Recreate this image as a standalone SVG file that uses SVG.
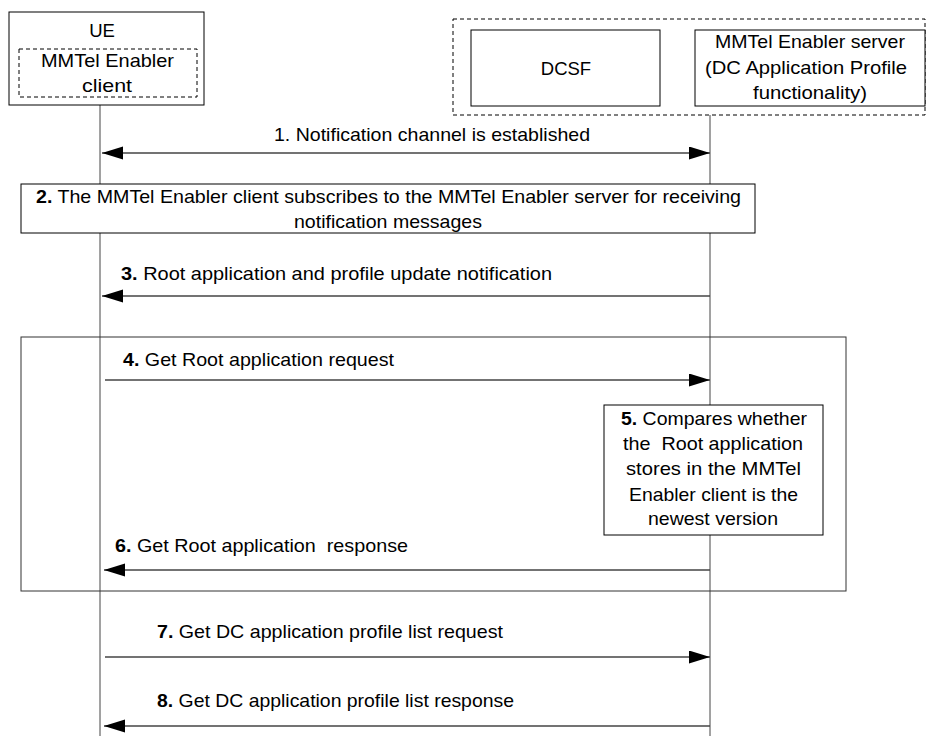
<svg xmlns="http://www.w3.org/2000/svg" width="926" height="736" viewBox="0 0 926 736">
<style>
  text { font-family: "Liberation Sans", Arial, sans-serif; font-size: 18.5px; fill: #000; }
  .box { fill: #fff; stroke: #000; stroke-width: 1; }
  .dash { fill: none; stroke: #000; stroke-width: 1; stroke-dasharray: 4 3; }
  .life { stroke: #444; stroke-width: 1; fill: none; }
  .msg { stroke: #444; stroke-width: 1.3; fill: none; }
  .frame { fill: none; stroke: #333; stroke-width: 1; }
  .b { font-weight: bold; }
  .mid { text-anchor: middle; }
</style>
<defs>
  <marker id="ah" markerUnits="userSpaceOnUse" markerWidth="22" markerHeight="14" refX="21" refY="6.5" orient="auto-start-reverse">
    <path d="M0,0 L21,6.5 L0,13 Z" fill="#000"/>
  </marker>
</defs>
<rect width="926" height="736" fill="#fff"/>

<g id="lifelines">
  <line class="life" x1="100" y1="105" x2="100" y2="736"/>
  <line class="life" x1="710" y1="115" x2="710" y2="736"/>
</g>

<g id="ue">
  <rect class="box" x="9" y="12" width="195" height="93"/>
  <rect class="dash" x="19" y="49" width="178" height="48"/>
  <text class="mid" x="102" y="37">UE</text>
  <text x="41" y="67" textLength="133" lengthAdjust="spacingAndGlyphs">MMTel Enabler</text>
  <text x="82" y="92" textLength="50" lengthAdjust="spacingAndGlyphs">client</text>
</g>

<g id="network">
  <rect class="dash" x="453" y="19" width="472" height="96"/>
</g>

<g id="dcsf">
  <rect class="box" x="471" y="30" width="189" height="76"/>
  <text class="mid" x="566" y="75">DCSF</text>
</g>

<g id="server">
  <rect class="box" x="695" y="30" width="230" height="76"/>
  <text x="715" y="48" textLength="190" lengthAdjust="spacingAndGlyphs">MMTel Enabler server</text>
  <text x="705" y="74" textLength="202" lengthAdjust="spacingAndGlyphs">(DC Application Profile</text>
  <text x="753" y="99" textLength="114" lengthAdjust="spacingAndGlyphs">functionality)</text>
</g>

<g id="loop-frame">
  <rect class="frame" x="21" y="337" width="825" height="254"/>
</g>

<g id="connectors">
  <line class="msg" x1="102" y1="153" x2="710" y2="153" marker-start="url(#ah)" marker-end="url(#ah)"/>
  <line class="msg" x1="710" y1="296" x2="102" y2="296" marker-end="url(#ah)"/>
  <line class="msg" x1="105" y1="380" x2="710" y2="380" marker-end="url(#ah)"/>
  <line class="msg" x1="710" y1="570" x2="104" y2="570" marker-end="url(#ah)"/>
  <line class="msg" x1="105" y1="657" x2="710" y2="657" marker-end="url(#ah)"/>
  <line class="msg" x1="710" y1="726" x2="104" y2="726" marker-end="url(#ah)"/>
</g>

<g id="labels">
  <text x="274" y="141" textLength="316" lengthAdjust="spacingAndGlyphs">1. Notification channel is established</text>
  <text x="121" y="280" textLength="431" lengthAdjust="spacingAndGlyphs"><tspan class="b">3.</tspan> Root application and profile update notification</text>
  <text x="123" y="366" textLength="271" lengthAdjust="spacingAndGlyphs"><tspan class="b">4.</tspan> Get Root application request</text>
  <text x="115" y="552" textLength="293" lengthAdjust="spacingAndGlyphs" xml:space="preserve"><tspan class="b">6.</tspan> Get Root application  response</text>
  <text x="157" y="638" textLength="346" lengthAdjust="spacingAndGlyphs"><tspan class="b">7.</tspan> Get DC application profile list request</text>
  <text x="157" y="707" textLength="357" lengthAdjust="spacingAndGlyphs"><tspan class="b">8.</tspan> Get DC application profile list response</text>
</g>

<g id="step2">
  <rect class="box" x="21" y="184" width="734" height="49"/>
  <text x="36" y="203" textLength="705" lengthAdjust="spacingAndGlyphs"><tspan class="b">2.</tspan> The MMTel Enabler client subscribes to the MMTel Enabler server for receiving</text>
  <text x="294" y="228" textLength="188" lengthAdjust="spacingAndGlyphs">notification messages</text>
</g>

<g id="step5">
  <rect class="box" x="604" y="405" width="219" height="130"/>
  <text x="621" y="425" textLength="186" lengthAdjust="spacingAndGlyphs"><tspan class="b">5.</tspan> Compares whether</text>
  <text x="623" y="450" textLength="180" lengthAdjust="spacingAndGlyphs" xml:space="preserve">the  Root application</text>
  <text x="626" y="475" textLength="175" lengthAdjust="spacingAndGlyphs">stores in the MMTel</text>
  <text x="629" y="501" textLength="169" lengthAdjust="spacingAndGlyphs">Enabler client is the</text>
  <text x="648" y="525" textLength="130" lengthAdjust="spacingAndGlyphs">newest version</text>
</g>
</svg>
